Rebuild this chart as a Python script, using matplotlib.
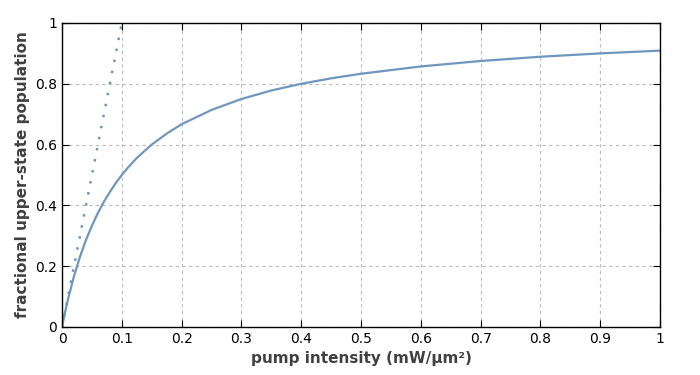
import matplotlib.pyplot as plt

# values
intensity = [0, 0.005, 0.01, 0.02, 0.03, 0.04, 0.05, 0.06, 0.07, 0.08, 0.09, 0.1, 0.11,
             0.125, 0.15, 0.175, 0.2, 0.25, 0.3, 0.35, 0.4, 0.45, 0.5, 0.6, 0.7, 0.8, 0.9, 1.0]
population = [0, 0.048, 0.091, 0.167, 0.231, 0.286, 0.333, 0.375, 0.412, 0.444, 0.474, 0.5,
              0.524, 0.556, 0.6, 0.636, 0.667, 0.714, 0.75, 0.778, 0.8, 0.818, 0.833, 0.857,
              0.875, 0.889, 0.9, 0.909]

# low-intensity limit (dotted)
lin_x = [0, 0.1]
lin_y = [0, 1.0]

col = '#6f96bd'
txt = '#404040'

fig = plt.figure(figsize=(7, 3.75), dpi=100)
ax = fig.add_axes([0.0886, 0.128, 0.8543, 0.8107])

ax.plot(intensity, population, color=col, lw=1.6)
ax.plot(lin_x, lin_y, color=col, lw=1.8, linestyle=(0, (1, 3.5)))

ax.set_xlim(0, 1)
ax.set_ylim(0, 1)
ax.set_xticks([i / 10 for i in range(11)])
ax.set_xticklabels(['0', '0.1', '0.2', '0.3', '0.4', '0.5', '0.6', '0.7', '0.8', '0.9', '1'])
ax.set_yticks([0, 0.2, 0.4, 0.6, 0.8, 1.0])
ax.set_yticklabels(['0', '0.2', '0.4', '0.6', '0.8', '1'])
ax.tick_params(direction='in', top=True, right=True, length=5, labelsize=10, colors='black')
ax.grid(True, linestyle=(0, (3, 3)), color='#bbbbbb', lw=0.8)
for s in ax.spines.values():
    s.set_linewidth(1.0)

ax.set_xlabel('pump intensity (mW/µm²)', fontsize=11, fontweight='bold', color=txt)
ax.set_ylabel('fractional upper-state population', fontsize=11, fontweight='bold', color=txt)

fig.savefig('out.png', dpi=100)
